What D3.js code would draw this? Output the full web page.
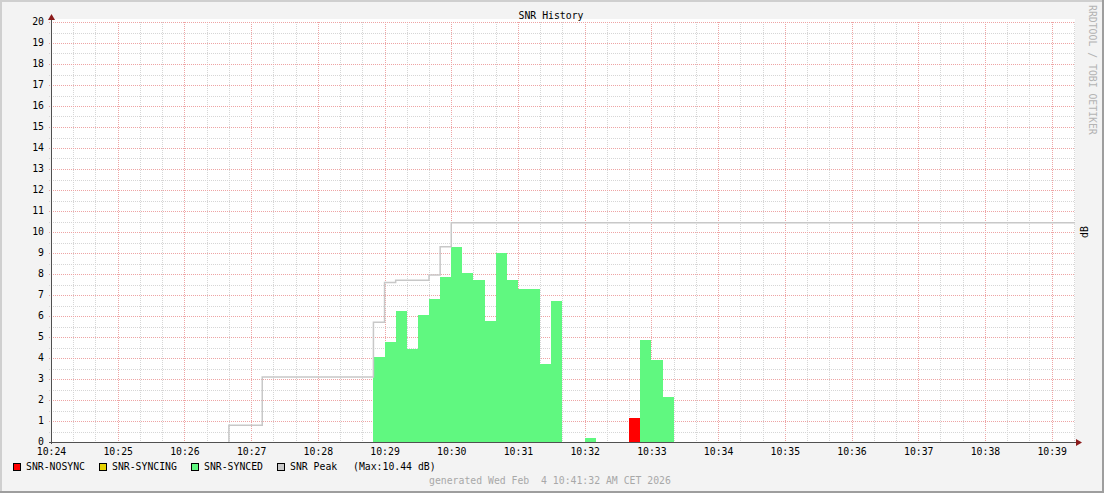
<!DOCTYPE html>
<html><head><meta charset="utf-8">
<script src="https://cdn.jsdelivr.net/npm/d3@7"></script>
<style>body{margin:0;background:#f3f3f3}svg{display:block}text{font-family:"DejaVu Sans Mono",monospace;white-space:pre}</style>
</head><body><svg id="c" width="1104" height="493"></svg>
<script>
// ---- data ----
const title = "SNR History";
const xTickLabels = ["10:24","10:25","10:26","10:27","10:28","10:29","10:30","10:31","10:32","10:33","10:34","10:35","10:36","10:37","10:38","10:39"];
const yTickLabels = [0,1,2,3,4,5,6,7,8,9,10,11,12,13,14,15,16,17,18,19,20];
const barStart = "10:28:50";   // 10-second samples
const barStepSec = 10;
const synced  = [4.05,4.76,6.24,4.44,6.05,6.81,7.86,9.29,8.05,7.71,5.78,9.0,7.71,7.29,7.29,3.73,6.71,0,0,0.19,0,0,0,0,4.86,3.9,2.14];
const nosync  = [0,0,0,0,0,0,0,0,0,0,0,0,0,0,0,0,0,0,0,0,0,0,0,1.15,0,0,0];
const syncing = [0,0,0,0,0,0,0,0,0,0,0,0,0,0,0,0,0,0,0,0,0,0,0,0,0,0,0];
const peakTimes  = ["10:26:40","10:26:40","10:27:10","10:28:50","10:29:00","10:29:10","10:29:40","10:29:50","10:30:00","10:39:21"];
const peakValues = [0,0.8,3.1,5.7,7.6,7.7,7.95,9.3,10.44,10.44];
const legendNames = ["SNR-NOSYNC","SNR-SYNCING","SNR-SYNCED","SNR Peak"];
const legendColors = ["#ff0000","#e6d200","#60f880","#c8c8c8"];
const peakMax = "(Max:10.44 dB)";
const generated = "generated Wed Feb  4 10:41:32 AM CET 2026";

// ---- helpers ----
const T = s => { const [h,m,sec] = s.split(":").map(Number); return new Date(2026,1,4,h,m,sec||0); };
const svg = d3.select("#c");
const W = 1104, H = 493;
const x0 = 51, x1 = 1075, yTop = 22, yBot = 442;
const x = d3.scaleTime().domain([T("10:24:00"), T("10:39:21")]).range([x0, x1]);
const y = d3.scaleLinear().domain([0,20]).range([yBot, yTop]);

// background & frame
svg.append("rect").attr("width",W).attr("height",H).attr("fill","#f3f3f3");
svg.append("path").attr("d",`M0,${H} V0 H${W}`).attr("fill","none").attr("stroke","#cfcfcf").attr("stroke-width",4);
svg.append("path").attr("d",`M0,${H} H${W} V0`).attr("fill","none").attr("stroke","#9e9e9e").attr("stroke-width",4);
svg.append("rect").attr("x",x0).attr("y",yTop-3).attr("width",x1-x0).attr("height",yBot-yTop+3).attr("fill","#ffffff");

// grid
const gridG = svg.append("g");
const minorX = d3.timeSecond.every(20).range(T("10:24:00"), T("10:39:21"));
minorX.forEach(t => {
  const major = t.getSeconds() === 0;
  const px = Math.round(x(t)) + 0.5;
  gridG.append("line").attr("x1",px).attr("x2",px).attr("y1",yTop).attr("y2",yBot+2)
    .attr("stroke", major ? "#eea4a4" : "#d6d6d6").attr("stroke-dasharray","1,1");
});
d3.range(0, 20.01, 0.5).forEach(v => {
  const major = v % 1 === 0;
  const py = Math.round(y(v)) + 0.5;
  gridG.append("line").attr("x1",x0-2).attr("x2",x1).attr("y1",py).attr("y2",py)
    .attr("stroke", major ? "#eea4a4" : "#d6d6d6").attr("stroke-dasharray","1,1");
});

// bars
const barTime = i => new Date(T(barStart).getTime() + i*barStepSec*1000);
const drawBars = (vals, color) => {
  svg.append("g").attr("shape-rendering","crispEdges")
    .selectAll("rect").data(vals.map((v,i)=>({v,i})).filter(d=>d.v>0)).join("rect")
    .attr("x", d => Math.round(x(barTime(d.i))))
    .attr("width", d => Math.round(x(barTime(d.i+1))) - Math.round(x(barTime(d.i))))
    .attr("y", d => Math.round(y(d.v)))
    .attr("height", d => yBot - Math.round(y(d.v)))
    .attr("fill", color);
};
drawBars(nosync, legendColors[0]);
drawBars(syncing, legendColors[1]);
drawBars(synced, legendColors[2]);

// peak line
const peak = peakTimes.map((t,i)=>({t:T(t), v:peakValues[i]}));
svg.append("path").datum(peak)
  .attr("d", d3.line().x(d=>x(d.t)).y(d=>y(d.v)).curve(d3.curveStepAfter))
  .attr("fill","none").attr("stroke","#c8c8c8").attr("stroke-width",1.5);

// axes
const axisG = svg.append("g");
axisG.append("line").attr("x1",x0-2).attr("x2",x1+2).attr("y1",yBot+0.5).attr("y2",yBot+0.5).attr("stroke","#505050");
axisG.append("line").attr("x1",x0+0.5).attr("x2",x0+0.5).attr("y1",yBot+2).attr("y2",yTop-3).attr("stroke","#505050");
axisG.append("path").attr("d",`M${x1+1},${yBot-3} L${x1+7},${yBot+0.5} L${x1+1},${yBot+4} Z`).attr("fill","#8b1a1a");
axisG.append("path").attr("d",`M${x0-3},${yTop-2} L${x0+0.5},${yTop-8} L${x0+4},${yTop-2} Z`).attr("fill","#8b1a1a");

// tick labels via d3 axes (domain hidden)
const xAxis = d3.axisBottom(x).ticks(d3.timeMinute.every(1)).tickFormat((d,i)=>xTickLabels[i]).tickSize(0).tickPadding(6);
const gx = svg.append("g").attr("transform",`translate(0,${yBot})`).call(xAxis);
gx.select(".domain").remove();
gx.selectAll("text").attr("font-family","DejaVu Sans Mono").attr("font-size","9.8px").attr("fill","#000");
const yAxis = d3.axisLeft(y).tickValues(yTickLabels).tickFormat(d=>String(d)).tickSize(0).tickPadding(7);
const gy = svg.append("g").attr("transform",`translate(${x0},0)`).call(yAxis);
gy.select(".domain").remove();
gy.selectAll("text").attr("font-family","DejaVu Sans Mono").attr("font-size","9.8px").attr("fill","#000").attr("dy","0.28em");

// title
svg.append("text").attr("x",551).attr("y",19).attr("text-anchor","middle").attr("font-size","9.8px").text(title);
// right side texts
svg.append("text").attr("transform","translate(1089,5) rotate(90)").attr("font-size","9.8px").attr("fill","#b4b4b4").text("RRDTOOL / TOBI OETIKER");
svg.append("text").attr("transform",`translate(1088,${(yTop+yBot)/2}) rotate(-90)`).attr("text-anchor","middle").attr("font-size","9.8px").text("dB");

// legend
const legX = [13, 99, 191, 277];
legendNames.forEach((n,i) => {
  svg.append("rect").attr("x",legX[i]+0.5).attr("y",463.5).attr("width",7).attr("height",7).attr("fill",legendColors[i]).attr("stroke","#000");
  svg.append("text").attr("x",legX[i]+13).attr("y",470).attr("font-size","9.8px").text(n);
});
svg.append("text").attr("x",353).attr("y",470).attr("font-size","9.8px").text(peakMax);
svg.append("text").attr("x",429).attr("y",484).attr("font-size","9.8px").attr("fill","#a8a8a8").attr("xml:space","preserve").text(generated);
</script></body></html>
